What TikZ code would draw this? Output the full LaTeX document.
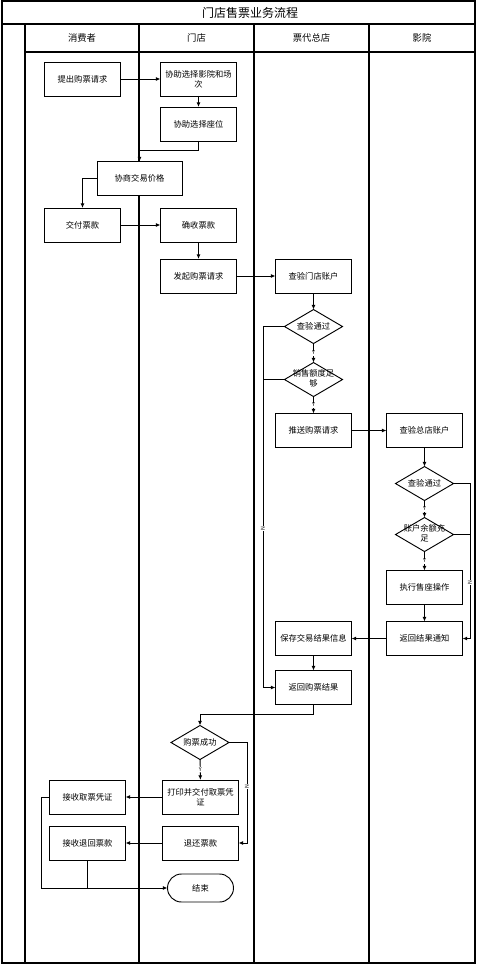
\documentclass[tikz,border=0pt]{standalone}
\usepackage{fontspec}
\setmainfont{Noto Sans CJK SC}
\usetikzlibrary{shapes.geometric, arrows.meta, positioning}

\begin{document}
\begin{tikzpicture}[
    x=0.75pt, y=-0.75pt,
    box/.style   = {rectangle, draw=black, line width=0.7pt, outer sep=0pt,
                    minimum width=57pt, minimum height=25.5pt, inner sep=1pt,
                    font=\fontsize{6.2}{7.4}\selectfont, fill=white, align=center},
    dec/.style   = {diamond, draw=black, line width=0.7pt, outer sep=0pt,
                    minimum width=43.5pt, minimum height=25.5pt, inner sep=0pt,
                    font=\fontsize{6.2}{7.4}\selectfont, fill=white, align=center},
    term/.style  = {rectangle, draw=black, line width=0.7pt, outer sep=0pt,
                    rounded corners=10.5pt, minimum width=49.5pt, minimum height=21pt,
                    font=\fontsize{6.2}{7.4}\selectfont, fill=white},
    lane/.style  = {line width=1pt},
    head/.style  = {font=\fontsize{7}{8}\selectfont},
    arrow/.style = {-{Latex[length=3.5pt, width=3pt]}, line width=0.7pt},
    yn/.style    = {font=\fontsize{4}{4}\selectfont, fill=white, inner sep=0.4pt}
]
\useasboundingbox (0,0) rectangle (491,966);

%% -- Frame and lanes ---------------------------------------
\draw[line width=1.2pt] (2,1) rectangle (475,963);
\draw[lane] (2,24) -- (475,24);
\draw[lane] (25,52) -- (475,52);
\draw[lane] (25,24) -- (25,963);
\foreach \x in {139,254,369}
  \draw[lane] (\x,24) -- (\x,963);

\node[font=\fontsize{9}{10}\selectfont] (title) at (250,12.5) {门店售票业务流程};
\node[head] (h_cons)   at (82,38)    {消费者};
\node[head] (h_store)  at (196.5,38) {门店};
\node[head] (h_agent)  at (311.5,38) {票代总店};
\node[head] (h_cinema) at (422,38)   {影院};

%% -- Consumer / store: request ------------------------------
\node[box] (req) at (82.5,79) {提出购票请求};
\node[box, right=30pt of req]    (pick) {协助选择影院和场\\次};
\node[box, below=8.25pt of pick] (seat) {协助选择座位};
\node[box, minimum width=63.75pt] (nego) at (139.5,178.5) {协商交易价格};
\node[box] (pay) at (82.5,225) {交付票款};
\node[box, right=30pt of pay]     (recv) {确收票款};
\node[box, below=12.75pt of recv] (init) {发起购票请求};

%% -- Agent head office ---------------------------------------
\node[box, right=29.25pt of init] (chk_store) {查验门店账户};
\node[dec, below=12.4pt of chk_store] (pass1) {\makebox[0pt]{查验通过}};
\node[dec, below=14.25pt of pass1]    (quota) {\makebox[0pt]{\begin{tabular}{@{}c@{}}销售额度足\\够\end{tabular}}};
\node[box, below=12.75pt of quota]    (push)  {推送购票请求};

%% -- Cinema ---------------------------------------------------
\node[box, right=26.25pt of push]    (chk_hq) {查验总店账户};
\node[dec, below=14.25pt of chk_hq]  (pass2)  {\makebox[0pt]{查验通过}};
\node[dec, below=12.75pt of pass2]   (bal)    {\makebox[0pt]{\begin{tabular}{@{}c@{}}账户余额充\\足\end{tabular}}};
\node[box, below=14.25pt of bal]     (sell)   {执行售座操作};
\node[box, below=12.75pt of sell]    (notify) {返回结果通知};
\node[box, left=26.25pt of notify]   (save)   {保存交易结果信息};
\node[box, below=11.25pt of save]    (result) {返回购票结果};

%% -- Store / consumer: finish -------------------------------
\node[dec] (ok) at (200,742.5) {\makebox[0pt]{购票成功}};
\node[box] (print) at (200.5,797) {打印并交付取票凭\\证};
\node[box, left=27.75pt of print] (ticket) {接收取票凭证};
\node[box, below=9pt of print]    (refund) {退还票款};
\node[box, left=27.75pt of refund] (back)  {接收退回票款};
\node[term] (finish) at (200.5,888) {结束};

%% -- Arrows ---------------------------------------------------
\draw[arrow] (req) -- (pick);
\draw[arrow] (pick) -- (seat);
\draw[arrow] (seat.south) -- ++(0,9) -| (nego.north);
\draw[arrow] (nego.west) -| (pay.north);
\draw[arrow] (pay) -- (recv);
\draw[arrow] (recv) -- (init);
\draw[arrow] (init) -- (chk_store);
\draw[arrow] (chk_store) -- (pass1);
\draw[arrow] (pass1) -- node[yn]{Y} (quota);
\draw[arrow] (quota) -- node[yn]{Y} (push);
\draw[arrow] (pass1.west) -- ++(-21.5,0) |- node[yn, pos=0.28, rotate=90]{N} (result.west);
\draw (quota.west) -- ++(-21.5,0);
\draw[arrow] (push) -- (chk_hq);
\draw[arrow] (chk_hq) -- (pass2);
\draw[arrow] (pass2) -- node[yn]{Y} (bal);
\draw[arrow] (bal) -- node[yn]{Y} (sell);
\draw[arrow] (sell) -- (notify);
\draw[arrow] (pass2.east) -- ++(16.5,0) |- node[yn, pos=0.32, rotate=90]{N} (notify.east);
\draw (bal.east) -- ++(16.5,0);
\draw[arrow] (notify) -- (save);
\draw[arrow] (save) -- (result);
\draw[arrow] (result.south) -- ++(0,10) -| (ok.north);
\draw[arrow] (ok) -- node[yn]{Y} (print);
\draw[arrow] (ok.east) -- ++(18,0) |- node[yn, pos=0.22, rotate=90]{N} (refund.east);
\draw[arrow] (print) -- (ticket);
\draw[arrow] (refund) -- (back);
\draw[arrow] (ticket.west) -- ++(-8.5,0) |- (finish.west);
\draw (back.south) -- (back.south |- finish.west);

\end{tikzpicture}
\end{document}
